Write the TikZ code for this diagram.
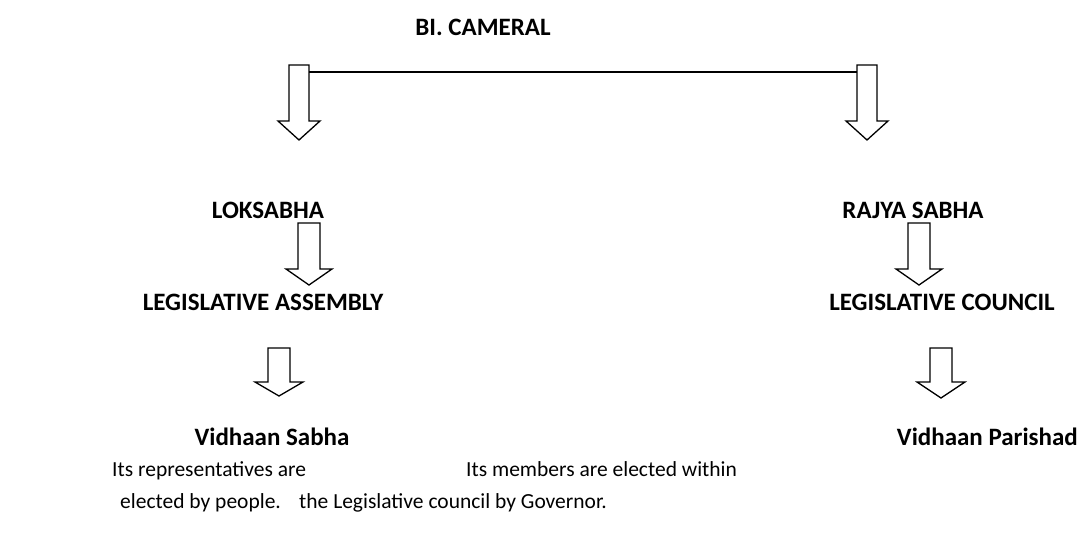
\documentclass[tikz,border=0pt]{standalone}
\usepackage{fontspec}
\setmainfont{Carlito}
\begin{document}
\begin{tikzpicture}[x=1pt,y=-1pt,
  lbl/.style={font=\fontsize{25}{29}\selectfont\bfseries, inner sep=0pt},
  txt/.style={font=\fontsize{21.5}{25}\selectfont, inner sep=0pt, anchor=base west},
  blk/.style={draw=black, line width=1.3pt, fill=white, line join=miter}]
\useasboundingbox (0,0) rectangle (1081,533);
% block arrow: #1 name, #2 x centre, #3 top, #4 shoulder, #5 tip, #6 half body, #7 half head
\newcommand\blockarr[7]{%
  \draw[blk] (#2-#6,#3) -- (#2+#6,#3) -- (#2+#6,#4) -- (#2+#7,#4) -- (#2,#5)
    -- (#2-#7,#4) -- (#2-#6,#4) -- cycle;
  \coordinate (#1top) at (#2,#3);
  \coordinate (#1tip) at (#2,#5);}
\node[lbl] (bi) at (483,27) {BI. CAMERAL};
\blockarr{a1}{299}{65}{121}{140}{10}{21}
\blockarr{a2}{867}{65}{121}{140}{10}{21}
\draw[line width=1.3pt] ([xshift=10pt,yshift=-7pt]a1top) -- ([xshift=-10pt,yshift=-7pt]a2top);
\node[lbl] (lok) at (268,210) {LOKSABHA};
\node[lbl] (rajya) at (913,210) {RAJYA SABHA};
\blockarr{b1}{309}{223}{269}{285}{11}{23}
\blockarr{b2}{919}{223}{269}{285}{11}{23}
\node[lbl] (la) at (263,302) {LEGISLATIVE ASSEMBLY};
\node[lbl] (lc) at (942,302) {LEGISLATIVE COUNCIL};
\blockarr{c1}{279}{348}{382}{396}{11}{24}
\blockarr{c2}{941}{348}{382}{398}{11}{24}
\node[lbl] (vs) at (272,437) {Vidhaan Sabha};
\node[lbl, anchor=east] (vp) at (1078,437) {Vidhaan Parishad};
\node[txt] (t1) at (112,476) {Its representatives are};
\node[txt] (t2) at (120,508) {elected by people.};
\node[txt] (t3) at (466,476) {Its members are elected within};
\node[txt] (t4) at (299,508) {the Legislative council by Governor.};
\end{tikzpicture}
\end{document}
